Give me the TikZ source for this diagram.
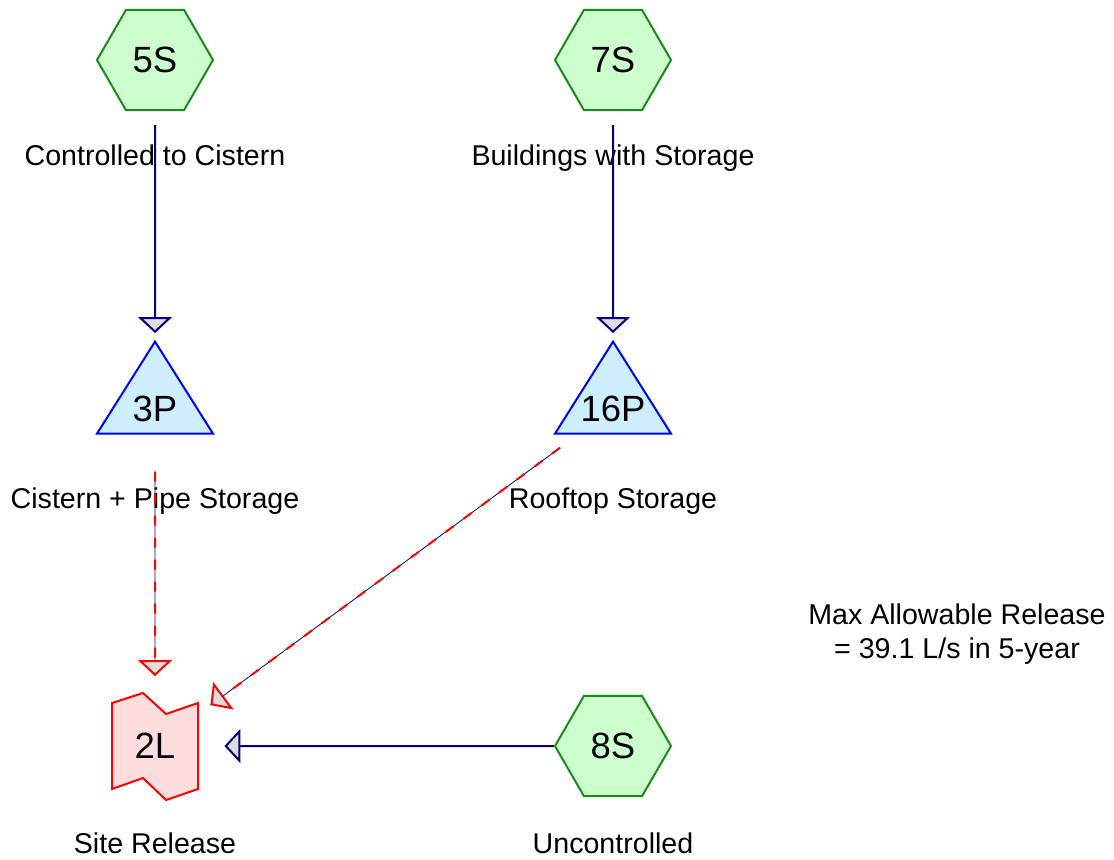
\documentclass[tikz,border=0pt]{standalone}
\usepackage{fontspec}
\setmainfont{Liberation Sans}
\usetikzlibrary{arrows.meta, shapes.geometric, positioning, backgrounds}
\definecolor{hexgreen}{HTML}{1A8A1A}
\definecolor{hexfill}{HTML}{CCFFCC}
\definecolor{pondblue}{HTML}{0000FF}
\definecolor{pondfill}{HTML}{CCEEFF}
\definecolor{linkred}{HTML}{FF0000}
\definecolor{linkfill}{HTML}{FFDDDD}
\definecolor{flownavy}{HTML}{000080}
\definecolor{tipgray}{HTML}{DDDDDD}
\newcommand{\pondid}[1]{\makebox[20pt]{#1}}

\begin{document}
\begin{tikzpicture}[x=0.5pt, y=-0.5pt,
    idfont/.style={font=\fontsize{18.25}{22}\selectfont},
    subcat/.style={regular polygon, regular polygon sides=6, minimum size=58pt,
                   inner sep=0pt, draw=hexgreen, fill=hexfill, line width=1pt, idfont},
    pond/.style={isosceles triangle, isosceles triangle stretches, shape border rotate=90,
                 minimum width=58pt, minimum height=46pt, inner sep=0pt,
                 draw=pondblue, fill=pondfill, line width=1pt, idfont},
    link/.style={rectangle, minimum width=43pt, minimum height=53.5pt, inner sep=0pt, idfont},
    linkshape/.style={draw=linkred, fill=linkfill, line width=1pt},
    lbl/.style={font=\fontsize{14.3}{17}\selectfont, inner sep=0pt, align=center},
    flow/.style={draw=flownavy, line width=1pt,
                 -{Triangle[length=8pt, width=17pt, fill=tipgray]}},
    pflow/.style={draw=linkred, line width=1pt, dash pattern=on 5pt off 6pt,
                  -{Triangle[length=8pt, width=17pt, fill=tipgray]},
                  preaction={draw=flownavy, solid, -}}
  ]
  \useasboundingbox (0,0) rectangle (1114,859);

  \node[subcat] (s5) at (155,60) {5S};
  \node[subcat] (s7) at (613,60) {7S};
  \node[subcat] (s8) at (613,746) {8S};
  \node[pond, anchor=apex] (p3) at (155,339) {\pondid{3P}};
  \node[pond, anchor=apex] (p16) at (613,339) {\pondid{16P}};
  \node[link] (l2) at (155,746) {2L};
  \begin{scope}[on background layer]
    \draw[linkshape, shift={(l2.center)}] (-43,-43) -- (-12,-53) -- (11,-32) -- (43,-43)
      -- (43,43) -- (11,54) -- (-12,32) -- (-43,43) -- cycle;
  \end{scope}

  % Labels
  \node[lbl, below=16.5pt of s5] (s5lbl) {Controlled to Cistern};
  \node[lbl, below=16.5pt of s7] (s7lbl) {Buildings with Storage};
  \node[lbl, below=26.5pt of p3] (p3lbl) {Cistern + Pipe Storage};
  \node[lbl, below=26.5pt of p16] (p16lbl) {Rooftop Storage};
  \node[lbl, below=16pt of l2] (l2lbl) {Site Release};
  \node[lbl, below=17.5pt of s8] (s8lbl) {Uncontrolled};
  \node[lbl] (note) at (957,634) {Max Allowable Release\\= 39.1 L/s in 5-year};

  \draw[flow, shorten <=7pt, shorten >=3pt] (s5) -- (p3.apex);
  \draw[flow, shorten <=7pt, shorten >=3pt] (s7) -- (p16.apex);
  \draw[pflow, shorten <=18.5pt, shorten >=8pt] (p3) -- (l2);
  \draw[pflow, shorten <=11pt, shorten >=7.5pt] (p16) -- (l2);
  \draw[flow, shorten >=13pt] (s8) -- (l2);
\end{tikzpicture}
\end{document}
